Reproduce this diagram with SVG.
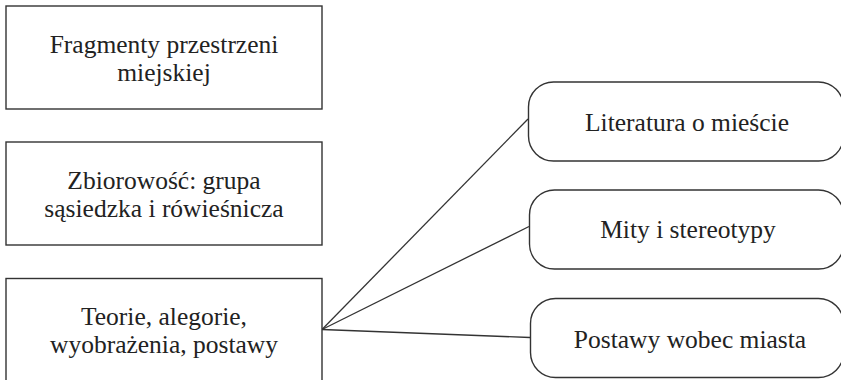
<svg xmlns="http://www.w3.org/2000/svg" width="841" height="380" viewBox="0 0 841 380">
<style>
.box{fill:#fff;stroke:#333;stroke-width:1.4}
.t{font-family:"Liberation Serif","DejaVu Serif",serif;font-size:25.5px;fill:#222;text-anchor:middle}
.c{stroke:#333;stroke-width:1.3;fill:none}
</style>
<rect width="841" height="380" fill="#fff"/>
<g id="connectors">
<line class="c" x1="322" y1="329.5" x2="528" y2="119"/>
<line class="c" x1="322" y1="329.5" x2="529" y2="226.5"/>
<line class="c" x1="322" y1="329.5" x2="530" y2="337.5"/>
</g>
<g id="n1">
<rect class="box" x="6" y="6" width="316" height="103"/>
<text class="t" x="164" y="53">Fragmenty przestrzeni</text>
<text class="t" x="164" y="81">miejskiej</text>
</g>
<g id="n2">
<rect class="box" x="6" y="142" width="316" height="103"/>
<text class="t" x="164" y="189">Zbiorowość: grupa</text>
<text class="t" x="164" y="217">sąsiedzka i rówieśnicza</text>
</g>
<g id="n3">
<rect class="box" x="6" y="278.5" width="316" height="120"/>
<text class="t" x="164" y="325">Teorie, alegorie,</text>
<text class="t" x="164" y="353">wyobrażenia, postawy</text>
</g>
<g id="n4">
<rect class="box" x="528.5" y="82" width="315" height="79" rx="25" ry="25"/>
<text class="t" x="687" y="131">Literatura o mieście</text>
</g>
<g id="n5">
<rect class="box" x="529.5" y="190" width="314" height="79" rx="25" ry="25"/>
<text class="t" x="688" y="238">Mity i stereotypy</text>
</g>
<g id="n6">
<rect class="box" x="530.5" y="298.5" width="313" height="79" rx="25" ry="25"/>
<text class="t" x="690" y="348">Postawy wobec miasta</text>
</g>
</svg>
